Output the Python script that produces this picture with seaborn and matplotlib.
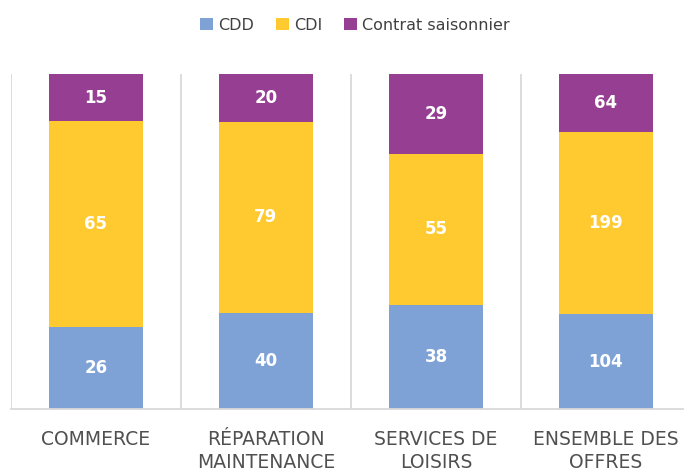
import matplotlib
matplotlib.use("Agg")
import matplotlib.pyplot as plt
import seaborn as sns
import pandas as pd
import numpy as np
from matplotlib.patches import Patch

categories = ["COMMERCE", "RÉPARATION\nMAINTENANCE", "SERVICES DE\nLOISIRS", "ENSEMBLE DES\nOFFRES"]
cdd = [26, 40, 38, 104]
cdi = [65, 79, 55, 199]
saison = [15, 20, 29, 64]
series_names = ["CDD", "CDI", "Contrat saisonnier"]
colors = ["#7FA2D6", "#FFCA30", "#953E92"]

sns.set_theme(style="white")
plt.rcParams['font.family'] = ['DejaVu Sans']

df = pd.DataFrame({"cat": categories, "CDD": cdd, "CDI": cdi, "Contrat saisonnier": saison})
tot = df[series_names].sum(axis=1)
pct = df[series_names].div(tot, axis=0) * 100
cum = pct.cumsum(axis=1)

fig = plt.figure(figsize=(6.84, 4.76), dpi=100)
ax = fig.add_axes([11/684, 67/476, 680/684, 335/476])

# draw cumulative bars from top layer to bottom layer
for name, col in zip(series_names[::-1], colors[::-1]):
    sns.barplot(x=df["cat"], y=cum[name], color=col, width=0.55, ax=ax,
                saturation=1, order=categories, linewidth=0, edgecolor="none")

# value labels
for i in range(len(categories)):
    base = 0
    for name in series_names:
        h = pct.loc[i, name]
        ax.text(i, base + h / 2, str(df.loc[i, name]), ha="center", va="center",
                color="white", fontsize=12, fontweight="bold")
        base += h

ax.set_ylim(0, 100)
ax.set_xlim(-0.5, 3.5)
ax.set_xlabel("")
ax.set_ylabel("")
ax.set_yticks([])
ax.set_xticks(range(len(categories)))
ax.set_xticklabels(categories, fontsize=13.5, color="#505050", linespacing=1.3)
ax.tick_params(axis="x", length=0, pad=15)
for x in [-0.5, 0.5, 1.5, 2.5]:
    ax.axvline(x, color="#D9D9D9", lw=1.3, zorder=0)
for s in ["top", "right", "left"]:
    ax.spines[s].set_visible(False)
ax.spines["bottom"].set_color("#D9D9D9")
ax.spines["bottom"].set_linewidth(1.3)

handles = [Patch(facecolor=c, edgecolor="none") for c in colors]
fig.legend(handles, series_names, loc="center", bbox_to_anchor=(355/684, 1 - 25/476),
           ncol=3, frameon=False, fontsize=11.5, handlelength=0.8, handleheight=0.8,
           handletextpad=0.3, columnspacing=1.4, labelcolor="#404040")

fig.savefig("out.png", dpi=100)
